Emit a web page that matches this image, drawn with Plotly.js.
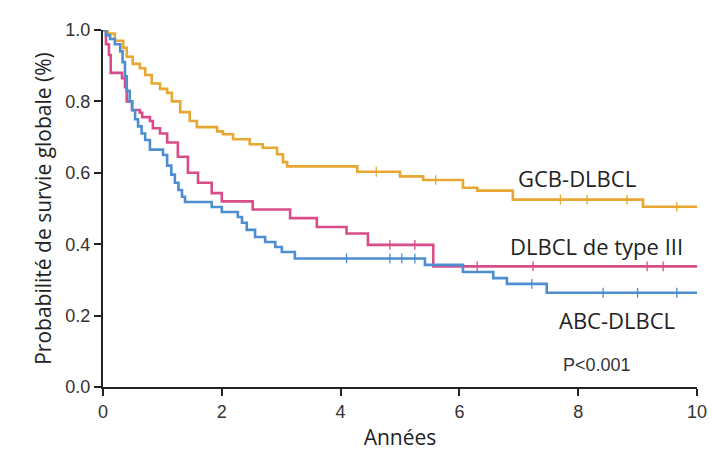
<!DOCTYPE html>
<html>
<head>
<meta charset="utf-8">
<script src="https://cdn.plot.ly/plotly-3.0.1.min.js"></script>
<style>html,body{margin:0;padding:0;background:#fff;}#chart{width:712px;height:460px;}</style>
</head>
<body>
<div id="chart"></div>
<script>
// Kaplan-Meier step data (years, survival probability)
const gcbTime = [0, 0.08, 0.2, 0.34, 0.4, 0.5, 0.62, 0.71, 0.82, 0.96, 1.08, 1.16, 1.3, 1.46, 1.58, 1.92, 2.02, 2.19, 2.47, 2.69, 2.93, 3.03, 3.1, 4.28, 5.0, 5.39, 6.06, 6.3, 6.9, 9.09, 10.0];
const gcbSurv = [1.0, 0.99, 0.97, 0.95, 0.925, 0.905, 0.893, 0.874, 0.85, 0.835, 0.824, 0.80, 0.77, 0.745, 0.728, 0.716, 0.708, 0.694, 0.68, 0.67, 0.652, 0.63, 0.618, 0.603, 0.59, 0.58, 0.558, 0.55, 0.525, 0.505, 0.505];

const t3Time = [0, 0.05, 0.1, 0.13, 0.32, 0.37, 0.4, 0.49, 0.62, 0.66, 0.79, 0.84, 0.96, 1.08, 1.26, 1.43, 1.6, 1.83, 2.0, 2.52, 3.15, 3.6, 4.1, 4.46, 5.56, 10.0];
const t3Surv = [1.0, 0.96, 0.93, 0.88, 0.865, 0.84, 0.80, 0.776, 0.768, 0.756, 0.745, 0.725, 0.71, 0.685, 0.645, 0.60, 0.572, 0.543, 0.52, 0.497, 0.473, 0.448, 0.43, 0.398, 0.338, 0.338];

const abcTime = [0, 0.05, 0.12, 0.2, 0.29, 0.33, 0.37, 0.4, 0.45, 0.49, 0.54, 0.59, 0.65, 0.71, 0.79, 1.01, 1.08, 1.15, 1.21, 1.27, 1.33, 1.38, 1.83, 2.0, 2.27, 2.34, 2.42, 2.56, 2.73, 2.9, 3.01, 3.23, 5.42, 6.06, 6.57, 6.8, 7.47, 10.0];
const abcSurv = [1.0, 0.985, 0.975, 0.96, 0.94, 0.91, 0.87, 0.83, 0.80, 0.775, 0.75, 0.73, 0.71, 0.692, 0.665, 0.65, 0.62, 0.595, 0.572, 0.552, 0.533, 0.518, 0.504, 0.49, 0.476, 0.46, 0.44, 0.42, 0.406, 0.392, 0.378, 0.36, 0.342, 0.322, 0.305, 0.289, 0.264, 0.264];

// censoring times
const gcbCens = [4.6, 5.6, 7.7, 8.15, 8.82, 9.66];
const t3Cens = [4.83, 5.25, 6.3, 7.24, 9.16, 9.43];
const abcCens = [4.1, 4.83, 5.03, 5.25, 7.22, 8.42, 9.0, 9.66];

const xTicks = [0, 2, 4, 6, 8, 10];
const yTicks = [0, 0.2, 0.4, 0.6, 0.8, 1.0];
const yTickText = ['0.0', '0.2', '0.4', '0.6', '0.8', '1.0'];

const labels = ['GCB-DLBCL', 'DLBCL de type III', 'ABC-DLBCL'];
const pText = 'P<0.001';

const cOrange = '#E8A632', cPink = '#D94C8A', cBlue = '#4C8ECF';

function stepAt(ts, ss, t) {
  let v = ss[0];
  for (let i = 0; i < ts.length; i++) { if (ts[i] <= t) v = ss[i]; }
  return v;
}

function curve(ts, ss, col) {
  return {x: ts, y: ss, type: 'scatter', mode: 'lines', line: {shape: 'hv', color: col, width: 2.6}, hoverinfo: 'skip'};
}
function cens(ct, ts, ss, col) {
  return {x: ct, y: ct.map(t => stepAt(ts, ss, t)), type: 'scatter', mode: 'markers',
    marker: {symbol: 'line-ns', size: 7, line: {color: col, width: 1.3}}, hoverinfo: 'skip'};
}

const data = [
  curve(gcbTime, gcbSurv, cOrange),
  curve(t3Time, t3Surv, cPink),
  curve(abcTime, abcSurv, cBlue),
  cens(gcbCens, gcbTime, gcbSurv, cOrange),
  cens(t3Cens, t3Time, t3Surv, cPink),
  cens(abcCens, abcTime, abcSurv, cBlue)
];

const textFont = 'Open Sans, sans-serif';
const axisCommon = {showgrid: false, zeroline: false, showline: true, linecolor: '#222', linewidth: 2,
  ticks: 'outside', ticklen: 7, tickwidth: 2, tickcolor: '#222',
  tickfont: {family: 'Liberation Sans, Arial, sans-serif', size: 18, color: '#333'}};

const layout = {
  width: 712, height: 460,
  margin: {l: 103, r: 15, t: 30, b: 73},
  paper_bgcolor: '#fff', plot_bgcolor: '#fff',
  showlegend: false,
  xaxis: Object.assign({}, axisCommon, {range: [0, 10], tickvals: xTicks, ticktext: xTicks.map(String),
    title: {text: 'Années', font: {family: textFont, size: 21, color: '#222'}, standoff: 10}}),
  yaxis: Object.assign({}, axisCommon, {range: [0, 1], tickvals: yTicks, ticktext: yTickText,
    title: {text: 'Probabilité de survie globale (%)', font: {family: textFont, size: 21, color: '#222'}, standoff: 8}}),
  annotations: [
    {x: 7.98, y: 0.585, xref: 'x', yref: 'y', text: labels[0], showarrow: false, font: {family: textFont, size: 22, color: '#222'}},
    {x: 8.3, y: 0.395, xref: 'x', yref: 'y', text: labels[1], showarrow: false, font: {family: textFont, size: 22, color: '#222'}},
    {x: 8.65, y: 0.187, xref: 'x', yref: 'y', text: labels[2], showarrow: false, font: {family: textFont, size: 22, color: '#222'}},
    {x: 8.32, y: 0.062, xref: 'x', yref: 'y', text: pText, showarrow: false, font: {family: 'Liberation Sans, Arial, sans-serif', size: 18, color: '#333'}}
  ]
};

Plotly.newPlot('chart', data, layout, {displayModeBar: false, staticPlot: true});
</script>
</body>
</html>
